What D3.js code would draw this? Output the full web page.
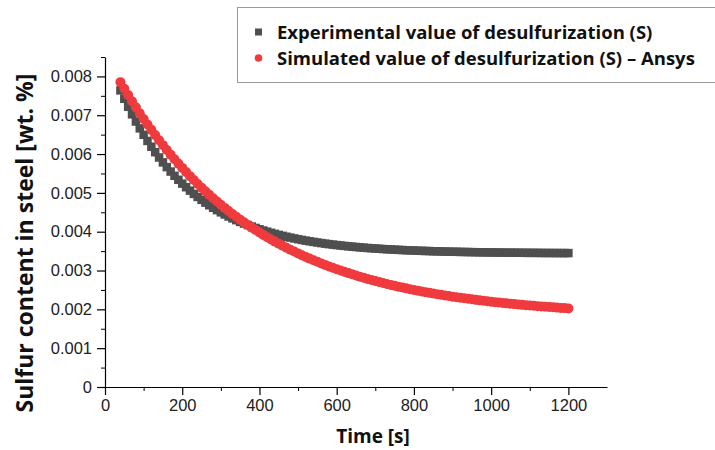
<!DOCTYPE html>
<html>
<head>
<meta charset="utf-8">
<script src="https://cdn.jsdelivr.net/npm/d3@7"></script>
<style>
  body { margin: 0; background: #fff; }
  svg { display: block; }
</style>
</head>
<body>
<div id="chart"></div>
<script>
// sampling times [s]
var times = [40,50,60,70,80,90,100,110,120,130,140,150,160,170,180,190,200,210,220,230,
  240,250,260,270,280,290,300,310,320,330,340,350,360,370,380,390,400,410,420,430,
  440,450,460,470,480,490,500,510,520,530,540,550,560,570,580,590,600,610,620,630,
  640,650,660,670,680,690,700,710,720,730,740,750,760,770,780,790,800,810,820,830,
  840,850,860,870,880,890,900,910,920,930,940,950,960,970,980,990,1000,1010,1020,1030,
  1040,1050,1060,1070,1080,1090,1100,1110,1120,1130,1140,1150,1160,1170,1180,1190,1200];

// experimental S [wt. %]
var experimental = [0.007640,0.007423,0.007218,0.007023,0.006838,0.006662,0.006496,0.006338,0.006189,0.006047,
  0.005912,0.005785,0.005664,0.005549,0.005440,0.005337,0.005239,0.005146,0.005058,0.004974,
  0.004895,0.004820,0.004749,0.004681,0.004617,0.004556,0.004499,0.004444,0.004392,0.004343,
  0.004297,0.004252,0.004210,0.004171,0.004133,0.004097,0.004063,0.004031,0.004001,0.003972,
  0.003944,0.003918,0.003894,0.003870,0.003848,0.003827,0.003807,0.003788,0.003770,0.003753,
  0.003737,0.003722,0.003707,0.003693,0.003680,0.003668,0.003656,0.003645,0.003634,0.003624,
  0.003615,0.003606,0.003597,0.003589,0.003581,0.003574,0.003567,0.003561,0.003554,0.003548,
  0.003543,0.003538,0.003533,0.003528,0.003523,0.003519,0.003515,0.003511,0.003507,0.003504,
  0.003501,0.003497,0.003494,0.003492,0.003489,0.003486,0.003484,0.003482,0.003480,0.003478,
  0.003476,0.003474,0.003472,0.003470,0.003469,0.003467,0.003466,0.003465,0.003463,0.003462,
  0.003461,0.003460,0.003459,0.003458,0.003457,0.003456,0.003455,0.003455,0.003454,0.003453,
  0.003452,0.003452,0.003451,0.003451,0.003450,0.003450,0.003449];

// simulated S (Ansys) [wt. %]
var simulated = [0.007852,0.007683,0.007518,0.007358,0.007203,0.007052,0.006905,0.006762,0.006623,0.006488,
  0.006357,0.006230,0.006106,0.005985,0.005868,0.005754,0.005644,0.005536,0.005431,0.005330,
  0.005231,0.005135,0.005042,0.004951,0.004863,0.004777,0.004694,0.004613,0.004534,0.004458,
  0.004383,0.004311,0.004241,0.004173,0.004106,0.004042,0.003979,0.003918,0.003859,0.003801,
  0.003745,0.003691,0.003638,0.003586,0.003536,0.003488,0.003441,0.003395,0.003350,0.003307,
  0.003265,0.003224,0.003184,0.003145,0.003107,0.003071,0.003035,0.003001,0.002967,0.002934,
  0.002903,0.002872,0.002842,0.002813,0.002784,0.002757,0.002730,0.002704,0.002679,0.002654,
  0.002630,0.002607,0.002584,0.002562,0.002541,0.002520,0.002500,0.002481,0.002462,0.002443,
  0.002425,0.002408,0.002391,0.002374,0.002358,0.002342,0.002327,0.002313,0.002298,0.002284,
  0.002271,0.002258,0.002245,0.002232,0.002220,0.002208,0.002197,0.002186,0.002175,0.002165,
  0.002154,0.002144,0.002135,0.002125,0.002116,0.002107,0.002099,0.002091,0.002082,0.002075,
  0.002067,0.002059,0.002052,0.002045,0.002038,0.002032,0.002025];

var xTicks = [0,200,400,600,800,1000,1200];
var yTicks = [0,0.001,0.002,0.003,0.004,0.005,0.006,0.007,0.008];
var legendLabels = ["Experimental value of desulfurization (S)",
  "Simulated value of desulfurization (S) \u2013 Ansys"];

var width = 715, height = 450;
var margin = {top: 57, right: 108, bottom: 63, left: 105};
var grey = "#4f4f4f", red = "#ef3b3e";
var titleFont = "'Open Sans', sans-serif";
var tickFont = "'Liberation Sans', Arial, sans-serif";

var svg = d3.select("#chart").append("svg")
  .attr("width", width)
  .attr("height", height);

var x = d3.scaleLinear()
  .domain([0, 1300])
  .range([margin.left, width - margin.right]);

var y = d3.scaleLinear()
  .domain([0, 0.0085])
  .range([height - margin.bottom, margin.top]);

var fmtY = function(d) { return d === 0 ? "0" : d3.format(".3f")(d); };

// minor ticks first
svg.append("g")
  .attr("transform", "translate(0," + y(0) + ")")
  .call(d3.axisBottom(x).tickValues(d3.range(100, 1300, 200)).tickSize(4).tickFormat(""))
  .call(function(g) { g.select(".domain").remove(); });

svg.append("g")
  .attr("transform", "translate(" + x(0) + ",0)")
  .call(d3.axisLeft(y).tickValues([0.0005,0.0015,0.0025,0.0035,0.0045,0.0055,0.0065,0.0075,0.0085]).tickSize(4).tickFormat(""))
  .call(function(g) { g.select(".domain").remove(); });

var xAxis = svg.append("g")
  .attr("transform", "translate(0," + y(0) + ")")
  .call(d3.axisBottom(x).tickValues(xTicks).tickSize(8).tickSizeOuter(0).tickPadding(4).tickFormat(d3.format("d")));

var yAxis = svg.append("g")
  .attr("transform", "translate(" + x(0) + ",0)")
  .call(d3.axisLeft(y).tickValues(yTicks).tickSize(8).tickSizeOuter(0).tickPadding(5).tickFormat(fmtY));

[xAxis, yAxis].forEach(function(g) {
  g.selectAll("path, line").attr("stroke", "#000").attr("stroke-width", 1.2);
  g.selectAll("text")
    .attr("font-family", tickFont)
    .attr("font-size", 16.5)
    .attr("fill", "#222");
});

// axis titles
svg.append("text")
  .attr("x", 373)
  .attr("y", 443)
  .attr("text-anchor", "middle")
  .attr("font-family", titleFont)
  .attr("font-weight", "bold")
  .attr("font-size", 19)
  .attr("fill", "#111")
  .text("Time [s]");

svg.append("text")
  .attr("transform", "translate(33,243) rotate(-90)")
  .attr("text-anchor", "middle")
  .attr("font-family", titleFont)
  .attr("font-weight", "bold")
  .attr("font-size", 23)
  .attr("fill", "#111")
  .text("Sulfur content in steel [wt. %]");

// data
var sq = 8.5;
svg.append("g").selectAll("rect")
  .data(times)
  .enter().append("rect")
  .attr("x", function(d) { return x(d) - sq / 2; })
  .attr("y", function(d, i) { return y(experimental[i]) - sq / 2; })
  .attr("width", sq)
  .attr("height", sq)
  .attr("fill", grey);

svg.append("g").selectAll("circle")
  .data(times)
  .enter().append("circle")
  .attr("cx", function(d) { return x(d); })
  .attr("cy", function(d, i) { return y(simulated[i]); })
  .attr("r", 5)
  .attr("fill", red);

// legend
var legend = svg.append("g");
legend.append("rect")
  .attr("x", 237.5)
  .attr("y", 7.5)
  .attr("width", 490)
  .attr("height", 75)
  .attr("fill", "#fff")
  .attr("stroke", "#9a9a9a")
  .attr("stroke-width", 1);

legend.append("rect")
  .attr("x", 255)
  .attr("y", 28.5)
  .attr("width", 7)
  .attr("height", 7)
  .attr("fill", grey);

legend.append("circle")
  .attr("cx", 258.5)
  .attr("cy", 58)
  .attr("r", 3.8)
  .attr("fill", red);

legend.selectAll("text.lbl")
  .data(legendLabels)
  .enter().append("text")
  .attr("class", "lbl")
  .attr("x", 277)
  .attr("y", function(d, i) { return 38.5 + i * 26; })
  .attr("font-family", titleFont)
  .attr("font-weight", "bold")
  .attr("font-size", 18.5)
  .attr("fill", "#111")
  .text(function(d) { return d; });
</script>
</body>
</html>
